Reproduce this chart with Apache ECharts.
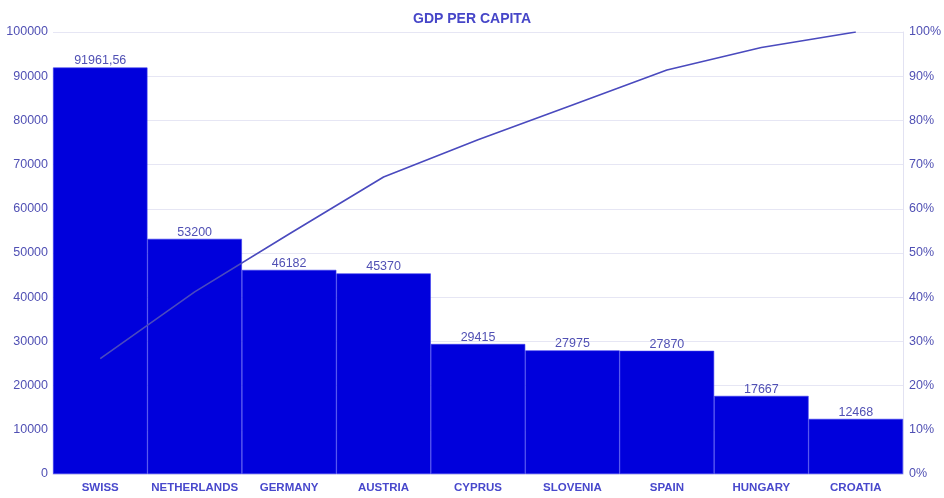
<!DOCTYPE html>
<html>
<head>
<meta charset="utf-8">
<script src="https://cdn.jsdelivr.net/npm/echarts@6/dist/echarts.min.js"></script>
<style>
  html, body { margin: 0; padding: 0; background: #ffffff; }
  #chart { width: 944px; height: 498px; }
</style>
</head>
<body>
<div id="chart"></div>
<script>
// GDP per capita by country, with the cumulative share as a Pareto line
const countries = ['SWISS', 'NETHERLANDS', 'GERMANY', 'AUSTRIA', 'CYPRUS', 'SLOVENIA', 'SPAIN', 'HUNGARY', 'CROATIA'];
const gdpPerCapita = [91961.56, 53200, 46182, 45370, 29415, 27975, 27870, 17667, 12468];
const cumulativeShare = [26.1, 41.2, 54.3, 67.2, 75.6, 83.5, 91.4, 96.5, 100];
const leftTicks = { min: 0, max: 100000, interval: 10000 };
const rightTicks = { min: 0, max: 100, interval: 10 };

const textColor = '#5050b4';
const font = 'Liberation Sans, Arial, sans-serif';

const chart = echarts.init(document.getElementById('chart'), null, { renderer: 'canvas' });
chart.setOption({
  animation: false,
  backgroundColor: '#ffffff',
  title: {
    text: 'GDP PER CAPITA',
    left: 'center',
    top: 7,
    textStyle: { color: '#4646c8', fontSize: 14, fontWeight: 'bold', fontFamily: font }
  },
  grid: { left: 53, right: 38, top: 32, bottom: 24, containLabel: false },
  xAxis: {
    type: 'category',
    data: countries,
    axisTick: { show: false },
    axisLine: { show: true, lineStyle: { color: '#e2e2f2' } },
    axisLabel: { interval: 0, color: '#4848cc', fontSize: 11.5, fontWeight: 'bold', fontFamily: font, margin: 8 }
  },
  yAxis: [
    {
      type: 'value',
      min: leftTicks.min, max: leftTicks.max, interval: leftTicks.interval,
      axisLine: { show: false },
      axisTick: { show: false },
      splitLine: { lineStyle: { color: '#e6e6f4', width: 1 } },
      axisLabel: { color: textColor, fontSize: 12.5, fontFamily: font, margin: 5, formatter: v => String(v) }
    },
    {
      type: 'value',
      min: rightTicks.min, max: rightTicks.max, interval: rightTicks.interval,
      position: 'right',
      axisLine: { show: true, lineStyle: { color: '#e2e2f2' } },
      axisTick: { show: false },
      splitLine: { show: false },
      axisLabel: { color: textColor, fontSize: 12.5, fontFamily: font, margin: 6, formatter: '{value}%' }
    }
  ],
  series: [
    {
      type: 'bar',
      yAxisIndex: 0,
      data: gdpPerCapita,
      barCategoryGap: 0,
      z: 2,
      itemStyle: { color: '#0000dc', borderColor: '#3a3aee', borderWidth: 0.6 },
      label: {
        show: true,
        position: 'top',
        distance: 0,
        color: textColor,
        fontSize: 12.5,
        fontFamily: font,
        formatter: p => String(p.value).replace('.', ',')
      }
    },
    {
      type: 'line',
      yAxisIndex: 1,
      data: cumulativeShare,
      symbol: 'none',
      z: 3,
      lineStyle: { color: '#4a4abe', width: 1.6 }
    }
  ]
});
</script>
</body>
</html>
